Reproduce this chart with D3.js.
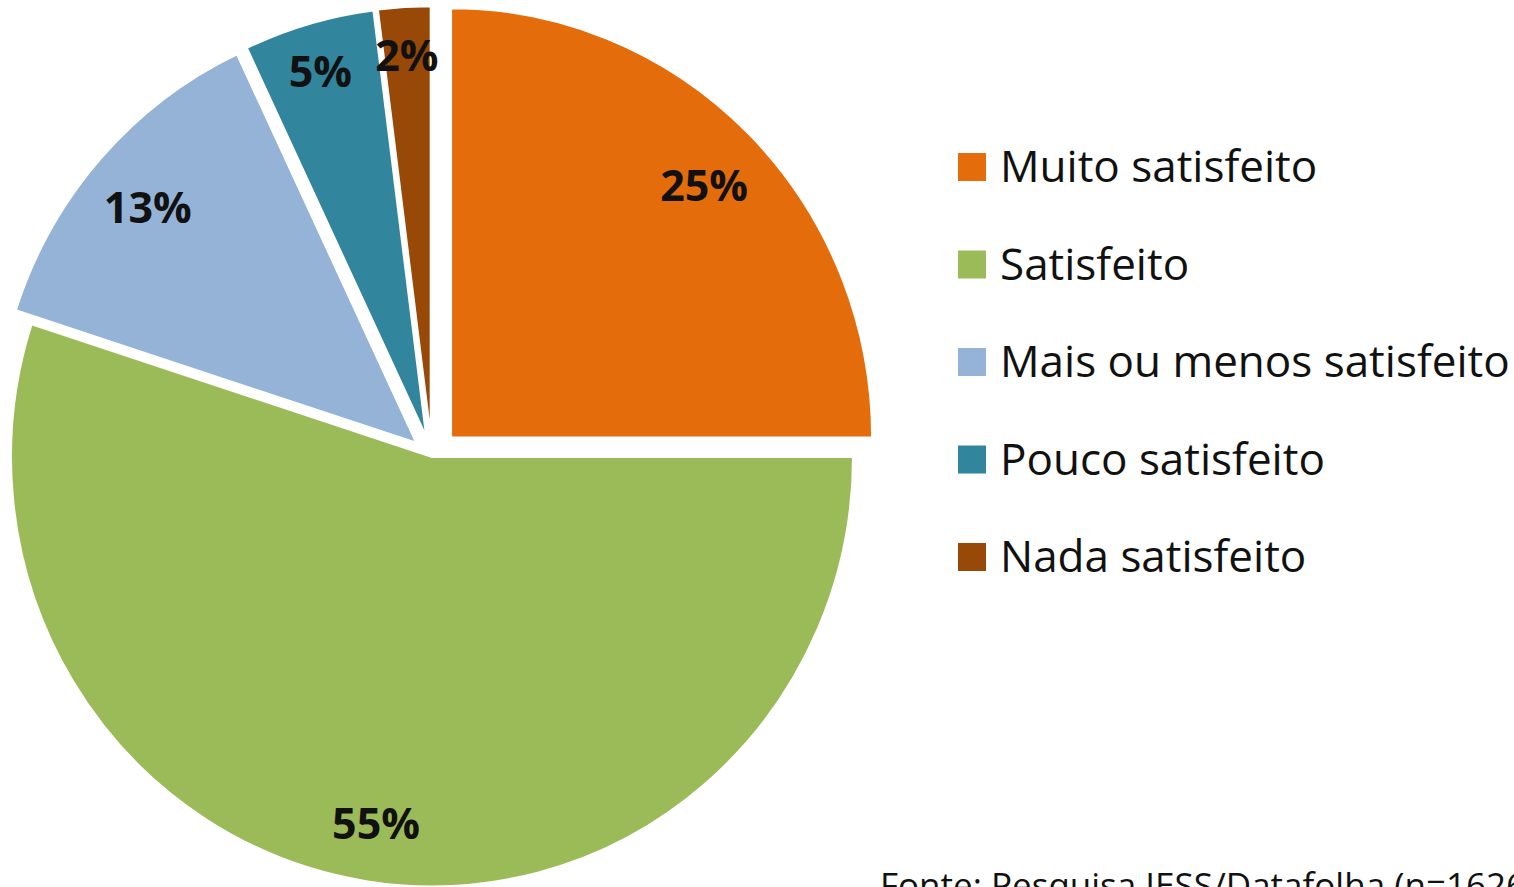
<!DOCTYPE html>
<html>
<head>
<meta charset="utf-8">
<script src="https://cdn.jsdelivr.net/npm/d3@7"></script>
<style>
  html, body { margin: 0; padding: 0; background: #fff; overflow: hidden; }
  svg { display: block; font-family: "Open Sans", "Noto Sans", sans-serif; }
</style>
</head>
<body>
<svg id="chart"></svg>
<script>
// data
const categories = ['Muito satisfeito', 'Satisfeito', 'Mais ou menos satisfeito', 'Pouco satisfeito', 'Nada satisfeito'];
const shares = [25, 55, 13, 5, 2];
const colors = ['#E46C0A', '#9BBB59', '#95B3D7', '#31859C', '#984807'];
const footnote = 'Fonte: Pesquisa IESS/Datafolha (n=1626)';

const W = 1514, H = 887;
const cfg = {
  cx: 432, cy: 457,
  radius: 421,
  yStretch: 1.02,
  explodeFirst: 27,
  explodeOther: 21,
  legendX: 958, legendY: 153, legendStep: 97.5, swatch: 28
};

const svg = d3.select('#chart').attr('width', W).attr('height', H);

const rows = categories.map((c, i) => ({ name: c, value: shares[i], color: colors[i] }));
const pie = d3.pie().sort(null).value(d => d.value);
const arcs = pie(rows);
const arc = d3.arc().innerRadius(0).outerRadius(cfg.radius);

// the green slice stays in place, the others are pulled out
function explode(d, i) {
  if (i === 1) return 0;
  return i === 0 ? cfg.explodeFirst : cfg.explodeOther;
}
function offset(d, i) {
  const a = (d.startAngle + d.endAngle) / 2;
  const e = explode(d, i);
  return [Math.sin(a) * e, -Math.cos(a) * e];
}

const pieG = svg.append('g')
  .attr('transform', `translate(${cfg.cx},${cfg.cy}) scale(1,${cfg.yStretch})`);

pieG.selectAll('path')
  .data(arcs)
  .join('path')
  .attr('transform', (d, i) => { const o = offset(d, i); return `translate(${o[0]},${o[1]})`; })
  .attr('d', arc)
  .attr('fill', d => d.data.color)
  .attr('stroke', '#fff')
  .attr('stroke-width', 2);

// percentage labels
svg.append('g').selectAll('text')
  .data(arcs)
  .join('text')
  .attr('transform', (d, i) => {
    const o = offset(d, i);
    const r = d.data.value < 10 ? cfg.radius * 0.9 : cfg.radius * 0.85;
    const c = d3.arc().innerRadius(r).outerRadius(r).centroid(d);
    return `translate(${cfg.cx + o[0] + c[0]},${cfg.cy + (o[1] + c[1]) * cfg.yStretch})`;
  })
  .attr('text-anchor', 'middle')
  .attr('dy', '0.5em')
  .attr('font-size', 43)
  .attr('font-weight', 700)
  .attr('fill', '#111')
  .text(d => d.data.value + '%');

// legend
const leg = svg.append('g').attr('transform', `translate(${cfg.legendX},${cfg.legendY})`);
const item = leg.selectAll('g')
  .data(rows)
  .join('g')
  .attr('transform', (d, i) => `translate(0,${i * cfg.legendStep})`);
item.append('rect')
  .attr('width', cfg.swatch)
  .attr('height', cfg.swatch)
  .attr('fill', d => d.color);
item.append('text')
  .attr('x', 42)
  .attr('y', 29)
  .attr('font-size', 44)
  .attr('fill', '#111')
  .text(d => d.name);

// source line, cut by the bottom edge as in the original
svg.append('text')
  .attr('x', 880)
  .attr('y', 898)
  .attr('font-size', 35)
  .attr('fill', '#111')
  .text(footnote);
</script>
</body>
</html>
